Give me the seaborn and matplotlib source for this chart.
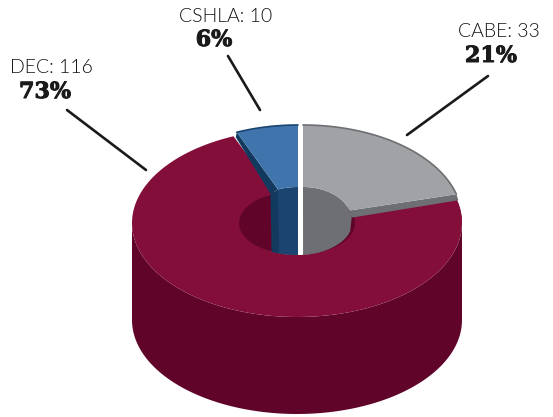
import matplotlib.patheffects as pe
import matplotlib.pyplot as plt
import numpy as np
import seaborn as sns

categorias = ["CABE", "DEC", "CSHLA"]
valores = [33, 116, 10]
porcentajes = [21, 73, 6]

color_gris = "#a0a2a5"
color_gris_osc = "#6d6f72"
color_rojo = "#830e3a"
color_rojo_osc = "#60042a"
color_azul = "#3f74ad"
color_azul_med = "#1b4570"
color_azul_osc = "#123a5e"


def elipse(cx, cy, rx, ry, desde, hasta, n=120):
    t = np.radians(np.linspace(desde, hasta, n))
    return np.column_stack([cx + rx * np.cos(t), cy - ry * np.sin(t)])


def poligono(ax, puntos, color, zorder):
    ax.fill(puntos[:, 0], puntos[:, 1], color=color, lw=0, zorder=zorder)


sns.set_theme(style="white")
plt.rcParams["font.family"] = ["Lato", "DejaVu Sans"]

fig, ax = plt.subplots(figsize=(5.53, 4.17), dpi=100)
ax.set_position([0, 0, 1, 1])
ax.set_xlim(0, 553)
ax.set_ylim(417, 0)
ax.axis("off")

# angulos de cada trozo, partiendo de las 12 y en sentido horario
total = sum(valores)
fin_cabe = 90 - valores[0] / total * 360
fin_dec = fin_cabe - valores[1] / total * 360
ini_azul = fin_dec + 360

cx, cy, rx, ry = 297, 223, 165, 94
hx, hy = 58, 32
alto = 97

# DEC: lateral, cara superior y agujero
arco_sup = elipse(cx, cy, rx, ry, fin_cabe, -180)
arco_inf = elipse(cx, cy + alto, rx, ry, -180, 0)
poligono(ax, np.vstack([arco_sup, arco_inf, [[cx + rx, cy]]]), color_rojo_osc, 1)
cara = np.vstack(
    [elipse(cx, cy, rx, ry, fin_cabe, fin_dec), elipse(cx, cy, hx - 2, hy, fin_dec, fin_cabe)]
)
poligono(ax, cara, color_rojo, 2)
poligono(ax, elipse(cx, cy, hx, hy, 0, 360), color_rojo_osc, 3)

# CABE
gx, gy, grx, gri = 303, 219, 159, 48
ext = elipse(gx, gy, grx, ry, 90, fin_cabe)
intr = elipse(gx, gy, gri, hy, fin_cabe, 90)
muro = np.vstack(
    [elipse(gx, gy, gri, hy, 90, fin_cabe), [[352, 215]], elipse(cx, cy, hx - 3, hy, -15, -84)]
)
poligono(ax, muro, color_gris_osc, 4)
franja = np.array([ext[-1], ext[-1] + [2, 6], intr[0] + [3, 7], intr[0]])
poligono(ax, franja, color_gris_osc, 5)
poligono(ax, np.vstack([ext, intr]), color_gris, 6)
ax.plot(ext[:, 0], ext[:, 1], color=color_gris_osc, lw=1.2, zorder=7)

# CSHLA
bx, by, brx, bri = 298, 219, 159, 52
ext_b = elipse(bx, by, brx, ry, ini_azul, 90)
int_b = elipse(bx, by, bri, hy, 90, ini_azul)
muro_az = np.vstack([int_b, elipse(cx, cy, hx, hy, -109, -89)])
poligono(ax, muro_az, color_azul_med, 4)
lado = np.array([ext_b[0], int_b[-1], int_b[-1] + [-7.5, 4.5], ext_b[0] + [-1, 5]])
poligono(ax, lado, color_azul_osc, 5)
pared = np.vstack([[int_b[-1]], [int_b[-1] + [-7.5, 4.5]], elipse(cx, cy, hx, hy, -116, -108)])
poligono(ax, pared, color_azul_osc, 5)
poligono(ax, np.vstack([ext_b, int_b]), color_azul, 6)
ax.plot(ext_b[:, 0], ext_b[:, 1], color=color_azul_med, lw=1.2, zorder=7)

# separacion blanca dentro del agujero
hueco = np.vstack([[[298, 187], [303, 187]], elipse(cx, cy, hx, hy, -84, -89)])
poligono(ax, hueco, "white", 6)

# lineas guia
guias_x = [[488, 407], [228, 260], [67, 146]]
guias_y = [[76, 135], [56, 110], [110, 170]]
for xs, ys in zip(guias_x, guias_y):
    sns.lineplot(x=xs, y=ys, sort=False, estimator=None, color="#1a1a1a", lw=1.9, ax=ax, zorder=8)

# textos
pos_etq = [(499, 31), (51, 67), (226, 16)]
pos_pct = [(491, 56), (45, 92), (214, 40)]
grueso = [pe.withStroke(linewidth=0.7, foreground="#1a1a1a")]
for i, cat in enumerate(categorias):
    ax.text(*pos_etq[i], f"{cat}: {valores[i]}", fontsize=14, fontweight=300, color="#111111",
            ha="center", va="center")
    ax.text(*pos_pct[i], f"{porcentajes[i]}%", fontsize=16, fontweight="bold", family="DejaVu Serif",
            color="#1a1a1a", ha="center", va="center", path_effects=grueso)

fig.savefig("out.png", dpi=100)
